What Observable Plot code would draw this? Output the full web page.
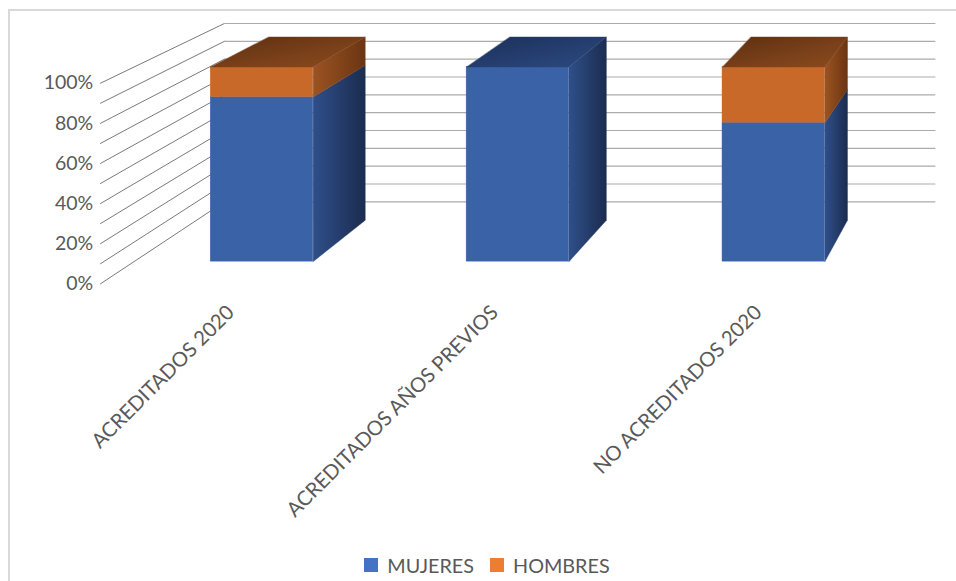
<!DOCTYPE html>
<html>
<head>
<meta charset="utf-8">
<script src="https://cdn.jsdelivr.net/npm/d3@7"></script>
<script src="https://cdn.jsdelivr.net/npm/@observablehq/plot@0.6"></script>
<style>
  html, body { margin: 0; padding: 0; background: #fff; overflow: hidden; }
  body { width: 956px; height: 581px; position: relative; font-family: Lato, "Open Sans", sans-serif; }
  #chart { position: absolute; left: 0; top: 0; width: 956px; }
  #frame { position: absolute; left: 8px; top: 9px; width: 1000px; height: 1000px;
           border-left: 2px solid #d9d9d9; border-top: 2px solid #d9d9d9; pointer-events: none; }
  #legend { height: 26px; display: flex; align-items: center; justify-content: center;
            padding-left: 18px; font-family: Lato, sans-serif; font-size: 19.8px; color: #595959; }
  .item { display: flex; align-items: center; margin: 0 8px; }
  .sw { width: 14px; height: 14px; margin-right: 9px; }
</style>
</head>
<body>
<div id="chart"></div>
<div id="frame"></div>
<script>
// ---- data ----
const categories = ["ACREDITADOS 2020", "ACREDITADOS AÑOS PREVIOS", "NO ACREDITADOS 2020"];
const mujeres = [84.6, 100, 71.4];
const hombres = [15.4, 0, 28.6];
const seriesNames = ["MUJERES", "HOMBRES"];
const yTicks = [0, 20, 40, 60, 80, 100];
const gridValues = [0, 10, 20, 30, 40, 50, 60, 70, 80, 90, 100];

// ---- styles / projection parameters ----
const legendColors = ["#4472C4", "#ED7D31"];
const frontColors = ["#3a62a7", "#c8692a"];
const sideFills = ["url(#sideBlue)", "url(#sideOrange)"];
const topFills = ["url(#topBlue)", "url(#topOrange)"];
const W = 956, H = 552;
const X0 = 100, X3 = 891.4, Y0 = 283.3, Y100 = 82.7;
const VU = 4.23, VV = 368.05;       // vanishing point in data units
const SF = 0.970, SB = 0.914, SW = 0.889; // perspective scale of bar front, bar back, back wall
const HW = 0.2;                    // half bar width in category units
const WALL_END = 3.03;

const proj = (u, v, s) => ({u: VU + (u - VU) * s, v: VV + (v - VV) * s});

// walls
const leftWall = [], backWall = [];
gridValues.forEach(g => {
  leftWall.push({id: g, ...proj(0, g, 1)}, {id: g, ...proj(0, g, SW)});
  backWall.push({id: g, ...proj(0, g, SW)}, {id: g, ...proj(WALL_END, g, SW)});
});

// bars
const fronts = [[], []], sides = [[], []], tops = [[], []];
categories.forEach((c, i) => {
  const vals = [mujeres[i], hombres[i]];
  const uL = i + 0.5 - HW, uR = i + 0.5 + HW;
  let topK = 0; vals.forEach((v, k) => { if (v > 0) topK = k; });
  let v0 = 0;
  vals.forEach((val, k) => {
    if (val <= 0) return;
    const v1 = v0 + val;
    const a = proj(uL, v0, SF), b = proj(uR, v1, SF);
    fronts[k].push({x1: a.u, x2: b.u, y1: a.v, y2: b.v});
    const id = c + k;
    sides[k].push({id, ...proj(uR, v0, SF)}, {id, ...proj(uR, v0, SB)}, {id, ...proj(uR, v1, SB)}, {id, ...proj(uR, v1, SF)});
    if (k === topK) {
      tops[k].push({id, ...proj(uL, v1, SF)}, {id, ...proj(uR, v1, SF)}, {id, ...proj(uR, v1, SB)}, {id, ...proj(uL, v1, SB)});
    }
    v0 = v1;
  });
});

const defsMark = () => {
  const defs = d3.create("svg:defs");
  const grad = (id, x2, y2, stops) => {
    const g = defs.append("linearGradient").attr("id", id).attr("x1", 0).attr("y1", 0).attr("x2", x2).attr("y2", y2);
    stops.forEach(([o, c]) => g.append("stop").attr("offset", o).attr("stop-color", c));
  };
  grad("sideBlue", 1, 0, [[0, "#2f4f8a"], [1, "#1b2c4f"]]);
  grad("sideOrange", 1, 0, [[0, "#9c5322"], [1, "#6a3512"]]);
  grad("topBlue", 1, 1, [[0, "#1c3059"], [1, "#2c4a82"]]);
  grad("topOrange", 1, 1, [[0, "#5c2f10"], [0.6, "#7b411a"], [1, "#8c4a1d"]]);
  return defs.node();
};

const marks = [
  defsMark,
  Plot.line(leftWall, {x: "u", y: "v", z: "id", stroke: "#7a7a7a", strokeWidth: 1}),
  Plot.line(backWall, {x: "u", y: "v", z: "id", stroke: "#ababab", strokeWidth: 1.2}),
];
[0, 1].forEach(k => {
  marks.push(Plot.rect(fronts[k], {x1: "x1", x2: "x2", y1: "y1", y2: "y2", fill: frontColors[k], stroke: frontColors[k], strokeWidth: 0.4}));
  marks.push(Plot.line(sides[k], {x: "u", y: "v", z: "id", fill: sideFills[k], stroke: sideFills[k], strokeWidth: 0.4, curve: "linear-closed"}));
  marks.push(Plot.line(tops[k], {x: "u", y: "v", z: "id", fill: topFills[k], stroke: topFills[k], strokeWidth: 0.4, curve: "linear-closed"}));
});
marks.push(
  Plot.text(yTicks, {x: 0, y: d => d, text: d => d + "%", textAnchor: "end", dx: -7.3, fill: "#595959"}),
  Plot.text(categories, {x: (d, i) => i + 0.5, y: 0, text: d => d, rotate: -45, textAnchor: "end", lineAnchor: "bottom", dx: 3, dy: 30, fill: "#595959", fontSize: 20.3})
);

const chart = Plot.plot({
  width: W, height: H,
  marginLeft: X0, marginRight: W - X3, marginTop: Y100, marginBottom: H - Y0,
  x: {type: "linear", domain: [0, 3], axis: null},
  y: {type: "linear", domain: [0, 100], axis: null},
  style: {fontFamily: "Lato, sans-serif", fontSize: "19.5px", background: "transparent", overflow: "visible"},
  marks
});
const host = document.getElementById("chart");
host.appendChild(chart);

const legend = document.createElement("div");
legend.id = "legend";
seriesNames.forEach((n, k) => {
  const it = document.createElement("div"); it.className = "item";
  const sw = document.createElement("div"); sw.className = "sw"; sw.style.background = legendColors[k];
  const t = document.createElement("span"); t.textContent = n;
  it.appendChild(sw); it.appendChild(t); legend.appendChild(it);
});
host.appendChild(legend);
</script>
</body>
</html>
